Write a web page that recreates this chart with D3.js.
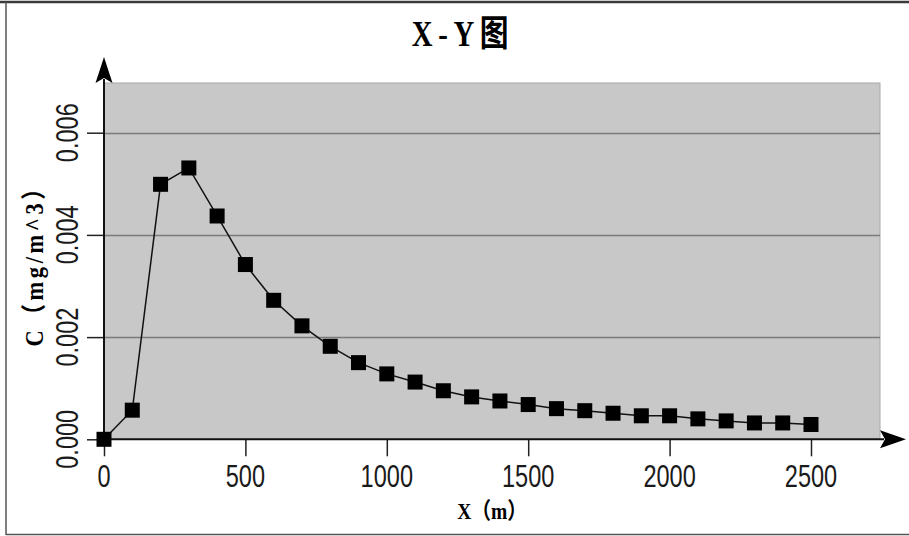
<!DOCTYPE html>
<html>
<head>
<meta charset="utf-8">
<script src="https://cdn.jsdelivr.net/npm/d3@7/dist/d3.min.js"></script>
<style>
  html, body { margin: 0; padding: 0; background: #ffffff; }
  svg { display: block; }
</style>
</head>
<body>
<svg id="chart" width="909" height="536"></svg>
<script>
// ---- data ----
const title = "X-Y图";
const xTitle = "X（m）";
const yTitle = "C（mg/m^3）";
const xValues = [0, 100, 200, 300, 400, 500, 600, 700, 800, 900, 1000, 1100, 1200,
  1300, 1400, 1500, 1600, 1700, 1800, 1900, 2000, 2100, 2200, 2300, 2400, 2500];
const cValues = [0.0000, 0.00057, 0.00499, 0.00531, 0.00437, 0.00342, 0.00272, 0.00222,
  0.00182, 0.00150, 0.00128, 0.00112, 0.00095, 0.00083, 0.00075, 0.00068, 0.00060,
  0.00056, 0.00051, 0.00046, 0.00046, 0.00040, 0.00036, 0.00032, 0.00032, 0.00029];
const xTicks = [0, 500, 1000, 1500, 2000, 2500];
const yTicks = [0.000, 0.002, 0.004, 0.006];
const yTickLabels = ["0.000", "0.002", "0.004", "0.006"];

// ---- layout ----
const svg = d3.select("#chart");
const plotLeft = 104, plotRight = 880, plotTop = 83, plotBottom = 439.3;
const x = d3.scaleLinear().domain([0, 2500]).range([plotLeft, 811]);
const y = d3.scaleLinear().domain([0, 0.006]).range([plotBottom, 132.7]);

// outer frame
svg.append("line").attr("x1", 0).attr("x2", 909).attr("y1", 2).attr("y2", 2)
  .attr("stroke", "#3a3a3a").attr("stroke-width", 2.5);
svg.append("line").attr("x1", 6).attr("x2", 6).attr("y1", 2).attr("y2", 535)
  .attr("stroke", "#555").attr("stroke-width", 1.5);
svg.append("line").attr("x1", 6).attr("x2", 909).attr("y1", 534.5).attr("y2", 534.5)
  .attr("stroke", "#555").attr("stroke-width", 1.5);

// plot background
svg.append("rect")
  .attr("x", plotLeft).attr("y", plotTop)
  .attr("width", plotRight - plotLeft).attr("height", plotBottom - plotTop)
  .attr("fill", "#c8c8c8").attr("stroke", "#a8a8a8").attr("stroke-width", 1);

// gridlines
svg.append("g").selectAll("line")
  .data(yTicks.filter(d => d > 0))
  .join("line")
  .attr("x1", plotLeft).attr("x2", plotRight)
  .attr("y1", d => Math.round(y(d)) + 0.5).attr("y2", d => Math.round(y(d)) + 0.5)
  .attr("stroke", "#7a7a7a").attr("stroke-width", 1.3);

// y axis ticks (via d3 axis)
const yAxis = d3.axisLeft(y).tickValues(yTicks).tickSize(17).tickFormat("");
const gy = svg.append("g").attr("transform", `translate(${plotLeft},0)`).call(yAxis);
gy.select(".domain").remove();
gy.selectAll(".tick line").attr("stroke", "#222").attr("stroke-width", 1.5);

// x axis ticks
const xAxis = d3.axisBottom(x).tickValues(xTicks).tickSize(17).tickFormat("");
const gx = svg.append("g").attr("transform", `translate(0,${plotBottom})`).call(xAxis);
gx.select(".domain").remove();
gx.selectAll(".tick line").attr("stroke", "#222").attr("stroke-width", 1.5);

// axis lines
svg.append("line").attr("x1", plotLeft).attr("x2", plotRight + 4)
  .attr("y1", plotBottom).attr("y2", plotBottom)
  .attr("stroke", "#111").attr("stroke-width", 2);
svg.append("line").attr("x1", plotLeft).attr("x2", plotLeft)
  .attr("y1", plotTop - 4).attr("y2", plotBottom)
  .attr("stroke", "#111").attr("stroke-width", 2);

// arrowheads
const ax = plotLeft, ayTip = 57;
svg.append("path")
  .attr("d", `M${ax},${ayTip} L${ax + 8.5},${plotTop} L${ax},${plotTop - 5} L${ax - 8.5},${plotTop} Z`)
  .attr("fill", "#000");
const axTip = 906;
svg.append("path")
  .attr("d", `M${axTip},${plotBottom} L${plotRight},${plotBottom - 9} L${plotRight + 5},${plotBottom} L${plotRight},${plotBottom + 9} Z`)
  .attr("fill", "#000");

// tick labels
const tickFont = "'Liberation Sans', Arial, sans-serif";
svg.append("g").selectAll("text")
  .data(xTicks)
  .join("text")
  .attr("transform", d => `translate(${x(d)},487) scale(0.76,1)`)
  .attr("text-anchor", "middle")
  .attr("font-family", tickFont).attr("font-size", 31)
  .attr("fill", "#1a1a1a")
  .text(d => d3.format("d")(d));

svg.append("g").selectAll("text")
  .data(yTicks)
  .join("text")
  .attr("transform", d => `translate(78,${y(d)}) rotate(-90) scale(0.76,1)`)
  .attr("text-anchor", "middle")
  .attr("font-family", tickFont).attr("font-size", 31)
  .attr("fill", "#1a1a1a")
  .text((d, i) => yTickLabels[i]);

// titles
const titleFont = "'Liberation Serif', 'Noto Sans CJK SC', serif";
svg.append("text")
  .attr("transform", "translate(463,46) scale(0.8,1)")
  .attr("text-anchor", "middle")
  .attr("font-family", titleFont).attr("font-weight", "bold").attr("font-size", 36)
  .attr("letter-spacing", 7)
  .attr("fill", "#000")
  .text(title);

svg.append("text")
  .attr("transform", "translate(492,519) scale(0.85,1)")
  .attr("text-anchor", "middle")
  .attr("font-family", titleFont).attr("font-weight", "bold").attr("font-size", 23)
  .attr("fill", "#000")
  .text(xTitle);

svg.append("text")
  .attr("transform", "translate(43,260) rotate(-90) scale(0.9,1)")
  .attr("text-anchor", "middle")
  .attr("font-family", titleFont).attr("font-weight", "bold").attr("font-size", 25)
  .attr("letter-spacing", 4)
  .attr("fill", "#000")
  .text(yTitle);

// data line
const pts = xValues.map((v, i) => [v, cValues[i]]);
svg.append("path")
  .datum(pts)
  .attr("fill", "none")
  .attr("stroke", "#111")
  .attr("stroke-width", 1.5)
  .attr("d", d3.line().x(d => x(d[0])).y(d => y(d[1])));

// markers
const ms = 15;
svg.append("g").selectAll("rect")
  .data(pts)
  .join("rect")
  .attr("x", d => x(d[0]) - ms / 2).attr("y", d => y(d[1]) - ms / 2)
  .attr("width", ms).attr("height", ms)
  .attr("fill", "#000");
</script>
</body>
</html>
